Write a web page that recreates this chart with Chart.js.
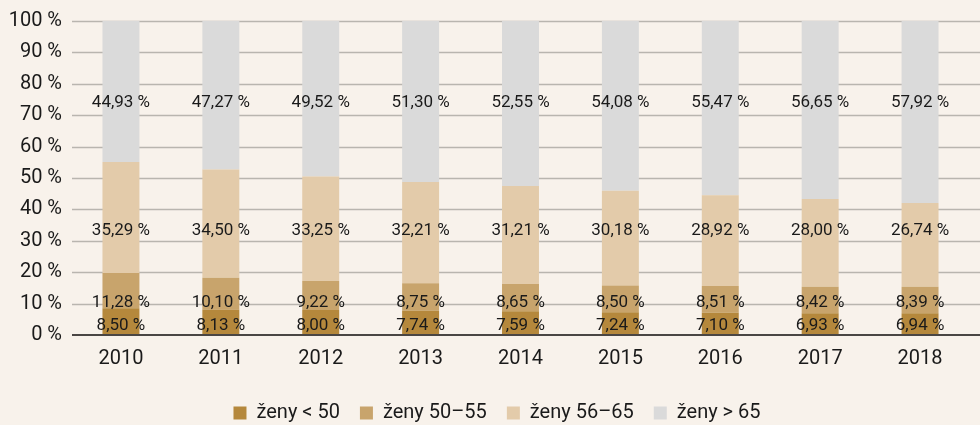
<!DOCTYPE html>
<html>
<head>
<meta charset="utf-8">
<script src="https://cdn.jsdelivr.net/npm/chart.js@4"></script>
<style>
    html, body { margin: 0; padding: 0; background: #f8f2eb; }
    #wrap { width: 980px; height: 425px; }
</style>
</head>
<body>
<div id="wrap"><canvas id="chart" width="980" height="425"></canvas></div>
<script>
const years = ['2010', '2011', '2012', '2013', '2014', '2015', '2016', '2017', '2018'];
const under50 = [8.50, 8.13, 8.00, 7.74, 7.59, 7.24, 7.10, 6.93, 6.94];
const from50to55 = [11.28, 10.10, 9.22, 8.75, 8.65, 8.50, 8.51, 8.42, 8.39];
const from56to65 = [35.29, 34.50, 33.25, 32.21, 31.21, 30.18, 28.92, 28.00, 26.74];
const over65 = [44.93, 47.27, 49.52, 51.30, 52.55, 54.08, 55.47, 56.65, 57.92];
const seriesNames = ['ženy < 50', 'ženy 50–55', 'ženy 56–65', 'ženy > 65'];
const seriesColors = ['#b5883c', '#c8a46c', '#e3cbaa', '#dadada'];

// labels sit on one fixed height per series, like in the original
const labelLevels = [3.0, 10.3, 33.2, 74.1];

const formatPercent = (v) => v.toFixed(2).replace('.', ',') + ' %';

// horizontal grid reaching to the right edge, plus the dark zero line
const gridLines = {
    id: 'gridLines',
    beforeDatasetsDraw(chart) {
        const ctx = chart.ctx;
        const yScale = chart.scales.y;
        const left = chart.chartArea.left + 1;
        ctx.save();
        yScale.ticks.forEach((tick) => {
            const y = Math.round(yScale.getPixelForValue(tick.value)) + 0.5;
            if (tick.value === 0) return;
            ctx.strokeStyle = '#b9b5af';
            ctx.lineWidth = 1.5;
            ctx.beginPath();
            ctx.moveTo(left, y);
            ctx.lineTo(chart.width, y);
            ctx.stroke();
        });
        ctx.restore();
    },
    afterDatasetsDraw(chart) {
        const ctx = chart.ctx;
        const y = chart.scales.y.getPixelForValue(0);
        ctx.save();
        ctx.strokeStyle = '#4a4644';
        ctx.lineWidth = 2;
        ctx.beginPath();
        ctx.moveTo(chart.chartArea.left + 1, y);
        ctx.lineTo(chart.width, y);
        ctx.stroke();
        ctx.restore();
    }
};

// the legend in the original sits a bit right of centre
const legendShift = {
    id: 'legendShift',
    afterLayout(chart) {
        chart.legend.left += 12;
        chart.legend.right += 12;
    }
};

const fixedLabels = {
    id: 'fixedLabels',
    afterDatasetsDraw(chart) {
        const ctx = chart.ctx;
        const yScale = chart.scales.y;
        ctx.save();
        ctx.font = '17px Roboto';
        ctx.fillStyle = '#1a1a1a';
        ctx.textAlign = 'center';
        ctx.textBaseline = 'middle';
        chart.data.datasets.forEach((dataset, i) => {
            const meta = chart.getDatasetMeta(i);
            const y = yScale.getPixelForValue(labelLevels[i]);
            meta.data.forEach((bar, j) => {
                ctx.fillText(formatPercent(dataset.data[j]), bar.x, y);
            });
        });
        ctx.restore();
    }
};

const datasets = [under50, from50to55, from56to65, over65].map((values, i) => ({
    label: seriesNames[i],
    data: values,
    backgroundColor: seriesColors[i],
    borderWidth: 0,
    barPercentage: 0.37,
    categoryPercentage: 1.0
}));

new Chart(document.getElementById('chart'), {
    type: 'bar',
    data: { labels: years, datasets: datasets },
    plugins: [gridLines, fixedLabels, legendShift],
    options: {
        responsive: false,
        animation: false,
        layout: { padding: { top: 12, right: 10, left: 0, bottom: -8 } },
        plugins: {
            legend: {
                position: 'bottom',
                labels: {
                    boxWidth: 13,
                    boxHeight: 13,
                    padding: 20,
                    color: '#1a1a1a',
                    font: { family: 'Roboto', size: 20 }
                }
            },
            tooltip: { enabled: false }
        },
        scales: {
            x: {
                stacked: true,
                grid: { display: false, drawTicks: false },
                border: { display: false },
                afterFit: (axis) => { axis.height = 48; },
                ticks: {
                    color: '#1a1a1a',
                    padding: 12,
                    font: { family: 'Roboto', size: 20 }
                }
            },
            y: {
                stacked: true,
                min: 0,
                max: 100,
                grid: { display: false, drawTicks: false },
                border: { display: false },
                afterFit: (axis) => { axis.width = 71; },
                ticks: {
                    stepSize: 10,
                    padding: 9,
                    color: '#1a1a1a',
                    font: { family: 'Roboto', size: 20 },
                    callback: (v) => v + ' %'
                }
            }
        }
    }
});
</script>
</body>
</html>
